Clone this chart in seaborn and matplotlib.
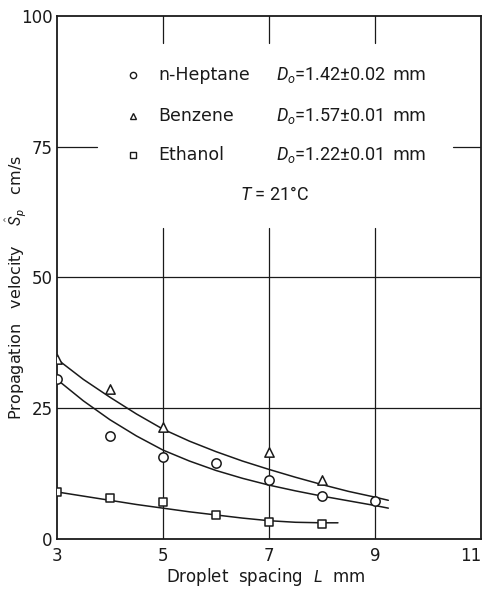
import numpy as np
import pandas as pd
import matplotlib
matplotlib.use("Agg")
import matplotlib.pyplot as plt
import seaborn as sns

heptane_L = [3, 4, 5, 6, 7, 8, 9]
heptane_S = [30.5, 19.6, 15.7, 14.5, 11.3, 8.2, 7.2]
benzene_L = [3, 4, 5, 7, 8]
benzene_S = [34.4, 28.6, 21.5, 16.7, 11.3]
ethanol_L = [3, 4, 5, 6, 7, 8]
ethanol_S = [9.0, 7.8, 7.1, 4.6, 3.3, 2.9]

# --- fitted curves ---
curve_L = [3, 3.5, 4, 4.5, 5, 5.5, 6, 6.5, 7, 7.5, 8, 8.5, 9, 9.25]
benzene_fit = [34.4, 30.5, 27.1, 23.9, 21.0, 18.7, 16.7, 14.9, 13.3, 11.8, 10.4, 9.1, 8.0, 7.4]
heptane_fit = [30.5, 26.4, 22.8, 19.7, 17.0, 14.9, 13.1, 11.6, 10.3, 9.2, 8.2, 7.3, 6.4, 5.9]
ethanol_curve_L = [3, 3.5, 4, 4.5, 5, 5.5, 6, 6.5, 7, 7.5, 8, 8.3]
ethanol_fit = [9.0, 8.2, 7.4, 6.6, 5.9, 5.2, 4.6, 4.0, 3.5, 3.2, 3.1, 3.1]

legend_names = ["n-Heptane", "Benzene", "Ethanol"]
legend_d0 = ["1.42\u00b10.02", "1.57\u00b10.01", "1.22\u00b10.01"]
x_ticks = [3, 5, 7, 9, 11]
y_ticks = [0, 25, 50, 75, 100]

points = pd.concat([
    pd.DataFrame({"L": heptane_L, "S": heptane_S, "fuel": "n-Heptane"}),
    pd.DataFrame({"L": benzene_L, "S": benzene_S, "fuel": "Benzene"}),
    pd.DataFrame({"L": ethanol_L, "S": ethanol_S, "fuel": "Ethanol"}),
])
curves = pd.concat([
    pd.DataFrame({"L": curve_L, "S": heptane_fit, "fuel": "n-Heptane"}),
    pd.DataFrame({"L": curve_L, "S": benzene_fit, "fuel": "Benzene"}),
    pd.DataFrame({"L": ethanol_curve_L, "S": ethanol_fit, "fuel": "Ethanol"}),
])

sns.set_style("white")
plt.rcParams["font.family"] = ["DejaVu Sans"]
plt.rcParams["mathtext.fontset"] = "custom"
plt.rcParams["mathtext.rm"] = "Roboto"
plt.rcParams["mathtext.it"] = "Roboto:italic"
ink = "#1a1a1a"

fig = plt.figure(figsize=(4.86, 5.90), dpi=100)
ax = fig.add_axes([0.117, 0.0864, 0.873, 0.887])

# grid with gaps around the legend block
for x in [5, 7, 9]:
    ax.axvline(x, ymin=0.948, ymax=1, color=ink, lw=0.9)
    ax.axvline(x, ymin=0, ymax=0.595, color=ink, lw=0.9)
ax.axhline(50, color=ink, lw=0.9)
ax.axhline(25, color=ink, lw=0.9)
ax.axhline(75, xmin=0, xmax=0.094, color=ink, lw=0.9)
ax.axhline(75, xmin=0.934, xmax=1, color=ink, lw=0.9)

sns.lineplot(data=curves, x="L", y="S", units="fuel", estimator=None,
             color=ink, lw=1.1, ax=ax, legend=False)
markers = {"n-Heptane": "o", "Benzene": "^", "Ethanol": "s"}
sizes = {"n-Heptane": 45, "Benzene": 45, "Ethanol": 32}
for fuel, sub in points.groupby("fuel"):
    sns.scatterplot(data=sub, x="L", y="S", marker=markers[fuel], s=sizes[fuel],
                    facecolor="white", edgecolor=ink, linewidth=1.1, ax=ax,
                    zorder=5, legend=False)

# legend block written as text
rows_y = [88.7, 80.9, 73.4]
for name, d0, y in zip(legend_names, legend_d0, rows_y):
    ax.plot(4.43, y, marker=markers[name], ms=4.5, mfc="white", mec=ink, mew=1.0,
            ls="none")
    ax.text(4.92, y, name, fontsize=12.5, va="center", color=ink)
    ax.text(7.14, y, r"$D_o$=" + d0, fontsize=13, va="center", color=ink,
            family="Roboto")
    ax.text(9.33, y, "mm", fontsize=12.5, va="center", color=ink)
ax.text(6.45, 65.8, r"$T$ = 21°C", fontsize=13, va="center", color=ink,
        family="Roboto")

ax.set_xlim(3, 11)
ax.set_ylim(0, 100)
ax.set_xticks(x_ticks)
ax.set_yticks(y_ticks)
ax.tick_params(length=0, labelsize=12, colors=ink)
ax.tick_params(axis="x", pad=6)
ax.tick_params(axis="y", pad=3)
# last x label sits at the figure edge; keep it inside
ax.get_xticklabels()[-1].set_horizontalalignment("right")
ax.set_xlabel("")
ax.set_ylabel("")
fig.text(266 / 486, 1 - 577 / 590, r"Droplet  spacing  $L$  mm", fontsize=12,
         color=ink, ha="center", va="center")
fig.text(16 / 486, 1 - 287 / 590,
         r"Propagation   velocity    $\hat{S}_p$   cm/s", fontsize=11.5,
         color=ink, ha="center", va="center", rotation=90)
for sp in ax.spines.values():
    sp.set_color(ink)
    sp.set_linewidth(1.3)

fig.savefig("out.png", dpi=100)
